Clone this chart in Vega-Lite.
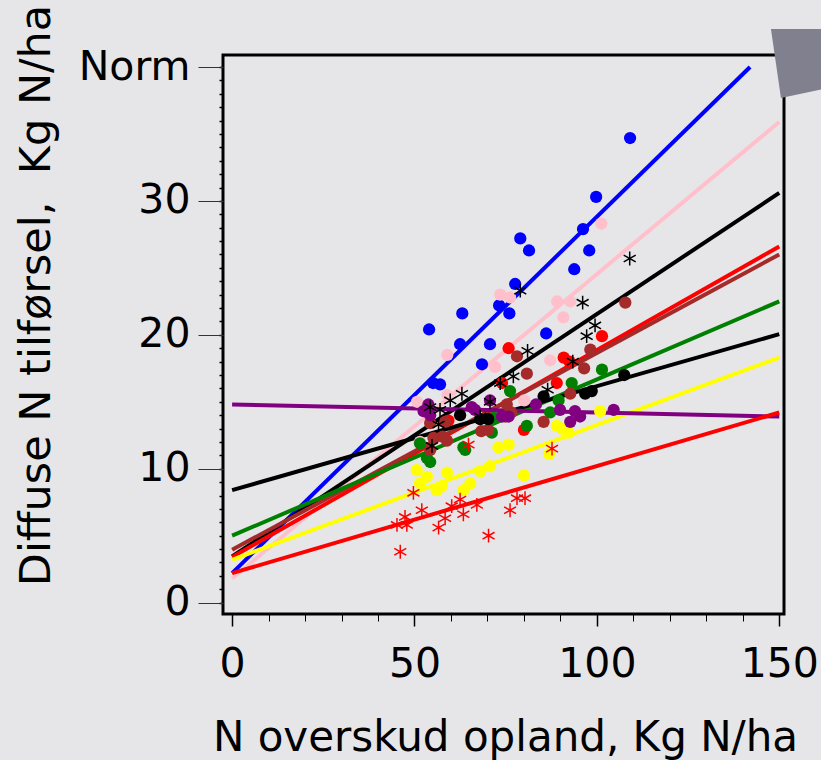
{
  "$schema": "https://vega.github.io/schema/vega-lite/v6.json",
  "width": 561,
  "height": 559,
  "autosize": {"type": "none"},
  "padding": {"left": 223, "top": 55, "right": 37, "bottom": 146},
  "background": "#e6e6e9",
  "config": {
    "view": {"stroke": "black", "strokeWidth": 3, "fill": "#e6e6e9"},
    "axis": {"grid": false, "domain": false, "labelFont": "DejaVu Sans", "titleFont": "DejaVu Sans", "labelColor": "black", "titleColor": "black", "titleFontWeight": "normal"}
  },
  "datasets": {
    "lines": [
      {"g": "g1", "x": 0, "y": 2.2}, {"g": "g1", "x": 142, "y": 40.0},
      {"g": "g2", "x": 0, "y": 1.8}, {"g": "g2", "x": 150, "y": 35.9},
      {"g": "g3", "x": 0, "y": 3.45}, {"g": "g3", "x": 150, "y": 30.6},
      {"g": "g4", "x": 0, "y": 3.4}, {"g": "g4", "x": 150, "y": 26.6},
      {"g": "g5", "x": 0, "y": 3.95}, {"g": "g5", "x": 150, "y": 26.0},
      {"g": "g6", "x": 0, "y": 5.0}, {"g": "g6", "x": 150, "y": 22.5},
      {"g": "g7", "x": 0, "y": 8.4}, {"g": "g7", "x": 150, "y": 20.05},
      {"g": "g8", "x": 0, "y": 3.2}, {"g": "g8", "x": 150, "y": 18.3},
      {"g": "g9", "x": 0, "y": 14.8}, {"g": "g9", "x": 150, "y": 13.9},
      {"g": "g10", "x": 0, "y": 2.2}, {"g": "g10", "x": 150, "y": 14.2}
    ],
    "circles": [
      {"g": "g1", "x": 109.1, "y": 34.7}, {"g": "g1", "x": 99.8, "y": 30.3}, {"g": "g1", "x": 96.2, "y": 27.9}, {"g": "g1", "x": 97.9, "y": 26.3}, {"g": "g1", "x": 79.0, "y": 27.2}, {"g": "g1", "x": 81.4, "y": 26.3}, {"g": "g1", "x": 93.8, "y": 24.9}, {"g": "g1", "x": 77.6, "y": 23.8}, {"g": "g1", "x": 73.2, "y": 22.2}, {"g": "g1", "x": 76.0, "y": 21.6}, {"g": "g1", "x": 63.1, "y": 21.6}, {"g": "g1", "x": 54.0, "y": 20.4}, {"g": "g1", "x": 86.1, "y": 20.1}, {"g": "g1", "x": 62.5, "y": 19.3}, {"g": "g1", "x": 70.7, "y": 19.3}, {"g": "g1", "x": 68.5, "y": 17.8}, {"g": "g1", "x": 55.1, "y": 16.4}, {"g": "g1", "x": 57.0, "y": 16.3},
      {"g": "g2", "x": 101.2, "y": 28.3}, {"g": "g2", "x": 73.5, "y": 23.0}, {"g": "g2", "x": 76.2, "y": 22.8}, {"g": "g2", "x": 89.1, "y": 22.5}, {"g": "g2", "x": 92.7, "y": 22.5}, {"g": "g2", "x": 90.8, "y": 21.3}, {"g": "g2", "x": 87.2, "y": 18.1}, {"g": "g2", "x": 59.0, "y": 18.5}, {"g": "g2", "x": 72.1, "y": 17.6}, {"g": "g2", "x": 50.7, "y": 15.0}, {"g": "g2", "x": 80.1, "y": 15.1}, {"g": "g2", "x": 51.5, "y": 12.0}, {"g": "g2", "x": 59.0, "y": 15.5},
      {"g": "g4", "x": 101.4, "y": 19.9}, {"g": "g4", "x": 75.8, "y": 19.0}, {"g": "g4", "x": 90.9, "y": 18.3}, {"g": "g4", "x": 92.5, "y": 18.0}, {"g": "g4", "x": 89.0, "y": 16.4}, {"g": "g4", "x": 74.0, "y": 16.4}, {"g": "g4", "x": 59.3, "y": 13.6}, {"g": "g4", "x": 80.0, "y": 12.9},
      {"g": "g6", "x": 101.4, "y": 17.4}, {"g": "g6", "x": 93.1, "y": 16.4}, {"g": "g6", "x": 89.5, "y": 15.1}, {"g": "g6", "x": 87.2, "y": 14.2}, {"g": "g6", "x": 80.8, "y": 13.2}, {"g": "g6", "x": 76.2, "y": 15.8}, {"g": "g6", "x": 71.7, "y": 13.8}, {"g": "g6", "x": 71.2, "y": 12.7}, {"g": "g6", "x": 63.9, "y": 11.4}, {"g": "g6", "x": 54.3, "y": 10.5}, {"g": "g6", "x": 51.5, "y": 11.9}, {"g": "g6", "x": 53.4, "y": 10.8}, {"g": "g6", "x": 63.4, "y": 11.6},
      {"g": "g5", "x": 107.8, "y": 22.4}, {"g": "g5", "x": 78.1, "y": 18.4}, {"g": "g5", "x": 80.8, "y": 17.1}, {"g": "g5", "x": 98.2, "y": 18.9}, {"g": "g5", "x": 96.5, "y": 17.5}, {"g": "g5", "x": 92.7, "y": 15.6}, {"g": "g5", "x": 75.3, "y": 14.8}, {"g": "g5", "x": 76.5, "y": 14.2}, {"g": "g5", "x": 85.4, "y": 13.5}, {"g": "g5", "x": 74.9, "y": 13.9}, {"g": "g5", "x": 68.3, "y": 12.8}, {"g": "g5", "x": 70.2, "y": 12.9}, {"g": "g5", "x": 57.7, "y": 12.4}, {"g": "g5", "x": 58.9, "y": 12.1}, {"g": "g5", "x": 55.2, "y": 12.3}, {"g": "g5", "x": 54.3, "y": 11.4}, {"g": "g5", "x": 54.3, "y": 13.4}, {"g": "g5", "x": 58.4, "y": 13.5},
      {"g": "g7", "x": 107.5, "y": 17.0}, {"g": "g7", "x": 96.8, "y": 15.6}, {"g": "g7", "x": 98.6, "y": 15.8}, {"g": "g7", "x": 85.4, "y": 15.4}, {"g": "g7", "x": 68.0, "y": 13.7}, {"g": "g7", "x": 70.2, "y": 13.7}, {"g": "g7", "x": 62.5, "y": 14.0},
      {"g": "g8", "x": 100.9, "y": 14.3}, {"g": "g8", "x": 89.0, "y": 13.2}, {"g": "g8", "x": 92.2, "y": 12.7}, {"g": "g8", "x": 86.9, "y": 11.1}, {"g": "g8", "x": 80.0, "y": 9.5}, {"g": "g8", "x": 75.8, "y": 11.8}, {"g": "g8", "x": 73.0, "y": 11.6}, {"g": "g8", "x": 70.7, "y": 10.2}, {"g": "g8", "x": 68.0, "y": 9.8}, {"g": "g8", "x": 65.3, "y": 8.9}, {"g": "g8", "x": 63.4, "y": 8.4}, {"g": "g8", "x": 58.9, "y": 9.7}, {"g": "g8", "x": 56.1, "y": 8.4}, {"g": "g8", "x": 53.4, "y": 9.4}, {"g": "g8", "x": 50.6, "y": 9.9}, {"g": "g8", "x": 51.5, "y": 8.9}, {"g": "g8", "x": 57.5, "y": 8.7}, {"g": "g8", "x": 90.5, "y": 13.0},
      {"g": "g9", "x": 104.6, "y": 14.4}, {"g": "g9", "x": 94.0, "y": 14.3}, {"g": "g9", "x": 95.4, "y": 13.9}, {"g": "g9", "x": 92.7, "y": 13.5}, {"g": "g9", "x": 89.9, "y": 14.4}, {"g": "g9", "x": 83.3, "y": 14.8}, {"g": "g9", "x": 75.8, "y": 13.9}, {"g": "g9", "x": 65.7, "y": 14.6}, {"g": "g9", "x": 52.5, "y": 14.3}, {"g": "g9", "x": 53.8, "y": 14.8}, {"g": "g9", "x": 70.7, "y": 15.1}, {"g": "g9", "x": 66.6, "y": 14.4}, {"g": "g9", "x": 54.3, "y": 14.0}, {"g": "g9", "x": 74.0, "y": 13.9}
    ],
    "stars": [
      {"g": "g3", "x": 109.0, "y": 25.7}, {"g": "g3", "x": 96.1, "y": 22.4}, {"g": "g3", "x": 99.5, "y": 20.7}, {"g": "g3", "x": 97.2, "y": 19.9}, {"g": "g3", "x": 79.0, "y": 23.3}, {"g": "g3", "x": 93.4, "y": 18.0}, {"g": "g3", "x": 81.0, "y": 18.8}, {"g": "g3", "x": 77.1, "y": 16.9}, {"g": "g3", "x": 73.5, "y": 16.4}, {"g": "g3", "x": 63.0, "y": 15.6}, {"g": "g3", "x": 59.8, "y": 15.1}, {"g": "g3", "x": 54.3, "y": 14.6}, {"g": "g3", "x": 57.0, "y": 14.4}, {"g": "g3", "x": 70.7, "y": 15.0}, {"g": "g3", "x": 86.5, "y": 15.9}, {"g": "g3", "x": 68.0, "y": 13.9}, {"g": "g3", "x": 56.6, "y": 13.3}, {"g": "g3", "x": 54.8, "y": 11.7},
      {"g": "g10", "x": 87.7, "y": 11.5}, {"g": "g10", "x": 49.7, "y": 8.2}, {"g": "g10", "x": 64.8, "y": 11.8}, {"g": "g10", "x": 52.0, "y": 6.9}, {"g": "g10", "x": 47.4, "y": 6.4}, {"g": "g10", "x": 45.2, "y": 5.8}, {"g": "g10", "x": 47.9, "y": 5.8}, {"g": "g10", "x": 46.1, "y": 3.8}, {"g": "g10", "x": 56.6, "y": 5.6}, {"g": "g10", "x": 58.4, "y": 6.3}, {"g": "g10", "x": 60.2, "y": 7.2}, {"g": "g10", "x": 62.5, "y": 7.7}, {"g": "g10", "x": 63.4, "y": 6.6}, {"g": "g10", "x": 67.1, "y": 7.3}, {"g": "g10", "x": 70.3, "y": 5.0}, {"g": "g10", "x": 76.2, "y": 6.9}, {"g": "g10", "x": 78.1, "y": 7.8}, {"g": "g10", "x": 80.3, "y": 7.8}
    ],
    "arrow": [{"x": 154.85, "y": 40.37}]
  },
  "resolve": {"axis": {"x": "independent", "y": "independent"}},
  "layer": [
    {
      "data": {"name": "lines"},
      "mark": {"type": "line", "clip": true},
      "encoding": {
        "x": {"field": "x", "type": "quantitative", "scale": {"domain": [-2.5, 151.3], "nice": false, "zero": false},
          "axis": {"orient": "bottom", "values": [0,10,20,30,40,50,60,70,80,90,100,110,120,130,140,150], "labels": false, "tickSize": 7, "tickColor": "black", "tickWidth": 1, "title": null}},
        "y": {"field": "y", "type": "quantitative", "scale": {"domain": [-0.85, 40.9], "nice": false, "zero": false},
          "axis": {"orient": "left", "values": [0,1,2,3,4,5,6,7,8,9,10,11,12,13,14,15,16,17,18,19,20,21,22,23,24,25,26,27,28,29,30,31,32,33,34,35,36,37,38,39,40], "labels": false, "tickSize": 4, "tickColor": "black", "tickWidth": 1.5, "title": null}},
        "detail": {"field": "g"},
        "color": {"field": "g", "type": "nominal", "legend": null,
          "scale": {"domain": ["g1","g2","g3","g4","g5","g6","g7","g8","g9","g10"], "range": ["#0000ff","#ffc0cb","#000000","#ff0000","#a52a2a","#008000","#000000","#ffff00","#800080","#ff0000"]}},
        "strokeWidth": {"field": "g", "type": "nominal", "legend": null,
          "scale": {"domain": ["g1","g2","g3","g4","g5","g6","g7","g8","g9","g10"], "range": [4, 4, 3.5, 3, 4, 3, 2.5, 3, 2, 3]}}
      }
    },
    {
      "data": {"name": "circles"},
      "mark": {"type": "point", "shape": "circle", "filled": true, "opacity": 1, "size": 150},
      "encoding": {
        "x": {"field": "x", "type": "quantitative",
          "axis": {"orient": "bottom", "values": [0, 50, 100, 150], "tickSize": 12, "tickColor": "black", "tickWidth": 1.5, "labelFontSize": 41, "labelPadding": 18, "labelFlush": false, "labelOverlap": false,
            "title": "N overskud opland, Kg N/ha", "titleFontSize": 42, "titleX": 282, "titleY": 136, "titleAlign": "center", "titleBaseline": "alphabetic"}},
        "y": {"field": "y", "type": "quantitative",
          "axis": {"orient": "left", "values": [0, 10, 20, 30, 40], "labelExpr": "datum.value == 40 ? 'Norm' : datum.label", "tickSize": 25, "tickColor": "#333333", "tickWidth": 1, "labelFontSize": 41, "labelPadding": 8, "labelOverlap": false,
            "title": "Diffuse N tilførsel,\u00a0 Kg N/ha", "titleFontSize": 43, "titleAngle": -90, "titleX": -174, "titleY": 240, "titleAlign": "center", "titleBaseline": "alphabetic"}},
        "color": {"field": "g", "type": "nominal", "legend": null}
      }
    },
    {
      "data": {"name": "stars"},
      "mark": {"type": "point", "shape": "M0,-1L0,1M-0.87,-0.5L0.87,0.5M-0.87,0.5L0.87,-0.5", "filled": false, "opacity": 1, "size": 190, "strokeWidth": 1.5},
      "encoding": {
        "x": {"field": "x", "type": "quantitative", "axis": null},
        "y": {"field": "y", "type": "quantitative", "axis": null},
        "color": {"field": "g", "type": "nominal", "legend": null}
      }
    },
    {
      "data": {"name": "arrow"},
      "mark": {"type": "point", "shape": "M-0.52,-0.66L-0.32,0.72L0.6,0.52L0.6,-0.66Z", "filled": true, "fill": "#80808f", "stroke": null, "opacity": 1, "size": 10000, "clip": false},
      "encoding": {
        "x": {"field": "x", "type": "quantitative", "axis": null},
        "y": {"field": "y", "type": "quantitative", "axis": null}
      }
    }
  ]
}
